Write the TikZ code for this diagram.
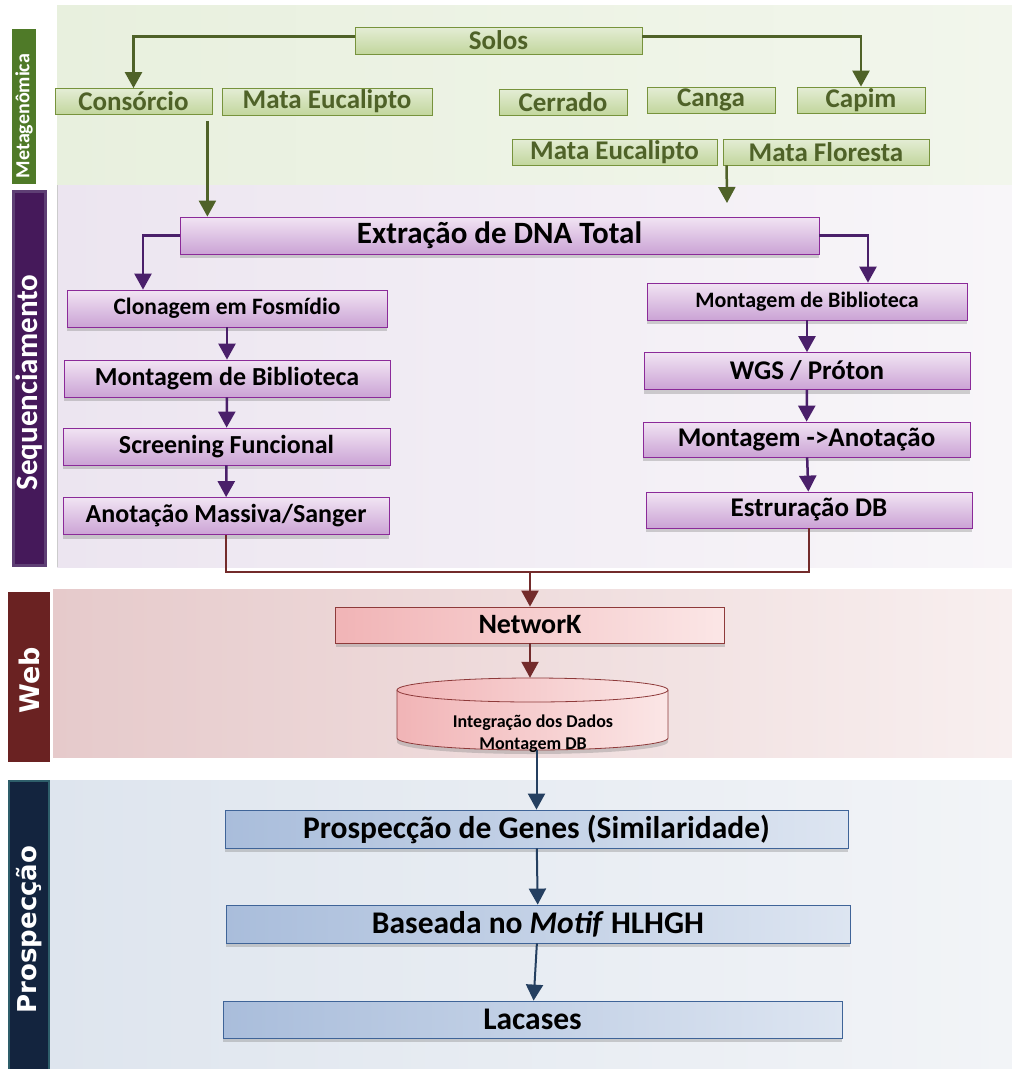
\documentclass[tikz,border=0pt]{standalone}
\usepackage{fontspec}
\setmainfont{Carlito}
\newfontfamily\widefont{DejaVu Sans}
\usetikzlibrary{arrows.meta,shadows}
\definecolor{metagreen}{HTML}{4F7A28}
\definecolor{seqpurple}{HTML}{45195A}
\definecolor{seqborder}{HTML}{5E3F74}
\definecolor{webred}{HTML}{6A2222}
\definecolor{prosnavy}{HTML}{13243E}
\definecolor{prosborder}{HTML}{2E5E6A}
\definecolor{gline}{HTML}{77933C}
\definecolor{gtop}{HTML}{E4EDD5}
\definecolor{gbot}{HTML}{C2D69D}
\definecolor{gtext}{HTML}{4F6228}
\definecolor{pline}{HTML}{8B2A99}
\definecolor{ptop}{HTML}{F1E4F3}
\definecolor{pbot}{HTML}{CBA3D5}
\definecolor{parrow}{HTML}{4A1F6A}
\definecolor{rline}{HTML}{8E3A3A}
\definecolor{rleft}{HTML}{F1B4B6}
\definecolor{rright}{HTML}{FBE6E6}
\definecolor{rarrow}{HTML}{732B2B}
\definecolor{bline}{HTML}{3F6498}
\definecolor{bleft}{HTML}{A9BDDB}
\definecolor{bright}{HTML}{DDE5F1}
\definecolor{barrow}{HTML}{243F60}
\definecolor{bandgl}{HTML}{E8F0DE}
\definecolor{bandgr}{HTML}{F2F6EC}
\definecolor{bandpl}{HTML}{ECE5F0}
\definecolor{bandpr}{HTML}{F8F6F9}
\definecolor{bandrl}{HTML}{E6CACB}
\definecolor{bandrr}{HTML}{F8EFEF}
\definecolor{bandbl}{HTML}{DEE5EE}
\definecolor{bandbr}{HTML}{F2F4F7}

\begin{document}
\begin{tikzpicture}[x=1pt,y=-1pt,
  tip/.style={-{Triangle[width=17pt,length=16pt]}},
  gbox/.style={draw=gline,thick,top color=gtop,bottom color=gbot,text=gtext,
    font=\bfseries\fontsize{27}{29}\selectfont,inner sep=0pt,minimum height=26pt},
  pbox/.style={draw=pline,thick,top color=ptop,bottom color=pbot,
    font=\bfseries\fontsize{26}{28}\selectfont,inner sep=0pt,minimum height=37pt,
    drop shadow={opacity=0.35,shadow xshift=0pt,shadow yshift=-4pt}},
  rbox/.style={draw=rline,thick,left color=rleft,right color=rright,
    font=\bfseries\fontsize{28}{30}\selectfont,inner sep=0pt,
    drop shadow={opacity=0.35,shadow xshift=0pt,shadow yshift=-4pt}},
  bbox/.style={draw=bline,thick,left color=bleft,right color=bright,
    font=\bfseries\fontsize{31.5}{34}\selectfont,inner sep=0pt,minimum height=38pt,
    drop shadow={opacity=0.35,shadow xshift=0pt,shadow yshift=-4pt}},
  side/.style={rotate=90,text=white,font=\bfseries\fontsize{31}{33}\selectfont}]
\useasboundingbox (0,0) rectangle (1012,1069);

% bands
\shade[left color=bandgl,right color=bandgr] (57,5) rectangle (1012,185);
\shade[left color=bandpl,right color=bandpr] (57,185) rectangle (1012,567);
\shade[left color=bandrl,right color=bandrr] (53,589) rectangle (1012,757);
\shade[left color=bandbl,right color=bandbr] (50,780) rectangle (1012,1069);
\draw[gray!40] (57,185) -- (57,567);

% side labels
\fill[metagreen] (12,29) rectangle (36,184);
\node[side,font=\bfseries\fontsize{20}{22}\selectfont] (lmeta) at (24,116) {Metagenômica};
\draw[seqborder,line width=3pt,fill=seqpurple] (13.5,191.5) rectangle (45.5,565.5);
\node[side] (lseq) at (29.5,382.5) {Sequenciamento};
\fill[webred] (8,592) rectangle (50,762);
\node[side,font=\widefont\bfseries\fontsize{27}{29}\selectfont] (lweb) at (29,680) {Web};
\draw[prosborder,line width=2pt,fill=prosnavy] (9,781) rectangle (49,1070);
\node[side,font=\widefont\bfseries\fontsize{26}{28}\selectfont] (lpros) at (29,929.5) {Prospecção};

% metagenomica
\node[gbox,minimum width=287pt,minimum height=27pt] (solos) at (498.5,40.5) {Solos};
\node[gbox,minimum width=157pt] (consorcio) at (133.5,101.5) {Consórcio};
\node[gbox,minimum width=210pt,minimum height=27pt] (mataeuc) at (327,101.5) {Mata Eucalipto};
\node[gbox,minimum width=128pt] (cerrado) at (563,102) {Cerrado};
\node[gbox,minimum width=128pt] (canga) at (711,100) {Canga};
\node[gbox,minimum width=128pt] (capim) at (861,100) {Capim};
\node[gbox,minimum width=205pt] (mataeucb) at (614.5,152) {Mata Eucalipto};
\node[gbox,minimum width=206pt] (matafl) at (826,152) {Mata Floresta};

% sequenciamento
\node[pbox,minimum width=639pt,font=\bfseries\fontsize{31}{33}\selectfont] (extracao) at (499.5,235.5) {Extração de DNA Total};
\node[pbox,minimum width=320pt,font=\bfseries\fontsize{23.5}{25}\selectfont] (clonagem) at (227,308.5) {Clonagem em Fosmídio};
\node[pbox,minimum width=326pt] (montbib) at (227,378.5) {Montagem de Biblioteca};
\node[pbox,minimum width=327pt] (screening) at (226.5,446.5) {Screening Funcional};
\node[pbox,minimum width=326pt] (anotacao) at (226,516) {Anotação Massiva/Sanger};
\node[pbox,minimum width=320pt,font=\bfseries\fontsize{22}{25}\selectfont] (montbibr) at (807,301.5) {Montagem de Biblioteca};
\node[pbox,minimum width=326pt,font=\bfseries\fontsize{27}{29}\selectfont] (wgs) at (807,371) {WGS / Próton};
\node[pbox,minimum width=327pt,minimum height=35pt,font=\bfseries\fontsize{27}{29}\selectfont] (montanot) at (806.5,439.5) {Montagem ->Anotação};
\node[pbox,minimum width=326pt,minimum height=36pt,font=\bfseries\fontsize{27}{29}\selectfont] (estrut) at (809,510) {Estruração DB};

% web
\node[rbox,minimum width=389pt,minimum height=36pt] (network) at (530,625) {NetworK};
\node[minimum width=271pt,minimum height=72pt] (db) at (532.5,714) {};
\shade[left color=rleft,right color=rright,drop shadow={opacity=0.35,shadow xshift=0pt,shadow yshift=-4pt}]
  (397,690) -- (397,738) arc[start angle=180,end angle=360,x radius=135.5pt,y radius=12pt]
  -- (668,690) arc[start angle=0,end angle=180,x radius=135.5pt,y radius=12pt] -- cycle;
\draw[rline,thick] (397,690) -- (397,738) arc[start angle=180,end angle=360,x radius=135.5pt,y radius=12pt]
  -- (668,690);
\draw[rline,thick] (532.5,690) ellipse[x radius=135.5pt,y radius=12pt];
\node[font=\bfseries\fontsize{18}{22}\selectfont,align=center] (dbtext) at (533,733.5) {Integração dos Dados\\Montagem DB};

% prospeccao
\node[bbox,minimum width=623pt] (genes) at (536.5,829) {Prospecção de Genes (Similaridade)};
\node[bbox,minimum width=624pt] (motif) at (538,924) {Baseada no \textit{Motif} HLHGH};
\node[bbox,minimum width=619pt,minimum height=37pt] (lacases) at (532.5,1019.5) {Lacases};

% connectors
\coordinate (mfend) at (727,203);
\coordinate (join) at (530,572);
\draw[gtext,line width=2.5pt,tip] ([yshift=4pt]solos.west) -| (consorcio.north);
\draw[gtext,line width=2.5pt,tip] ([yshift=4pt]solos.east) -| (capim.north);
\draw[gtext,line width=2.5pt,tip] ([xshift=-5pt,yshift=-6pt]consorcio.south east) -- ([xshift=-5pt]consorcio.south east |- extracao.north);
\draw[gtext,line width=2.5pt,tip] ([xshift=4pt]matafl.south west) -- (mfend);
\draw[parrow,line width=2.5pt,tip] (extracao.west) -| ([xshift=-84pt]clonagem.north);
\draw[parrow,line width=2.5pt,tip] (extracao.east) -| ([xshift=61pt]montbibr.north);
\draw[parrow,line width=2.5pt,tip] (clonagem) -- (montbib);
\draw[parrow,line width=2.5pt,tip] (montbib) -- (screening);
\draw[parrow,line width=2.5pt,tip] (screening) -- (anotacao);
\draw[parrow,line width=2.5pt,tip] (montbibr) -- (wgs);
\draw[parrow,line width=2.5pt,tip] (wgs) -- (montanot);
\draw[parrow,line width=2.5pt,tip] (montanot) -- (estrut);
\draw[rarrow,line width=2pt] (anotacao.south) |- (join);
\draw[rarrow,line width=2pt] (estrut.south) |- (join);
\draw[rarrow,line width=2pt,tip] (join) -- (network.north);
\draw[rarrow,line width=2pt,tip] (network.south) -- (db.north -| network.south);
\draw[barrow,line width=2pt,tip] (genes.north |- db.south) -- (genes.north);
\draw[barrow,line width=2pt,tip] (genes) -- (motif);
\draw[barrow,line width=2pt,tip] (motif) -- (lacases);
\end{tikzpicture}
\end{document}
